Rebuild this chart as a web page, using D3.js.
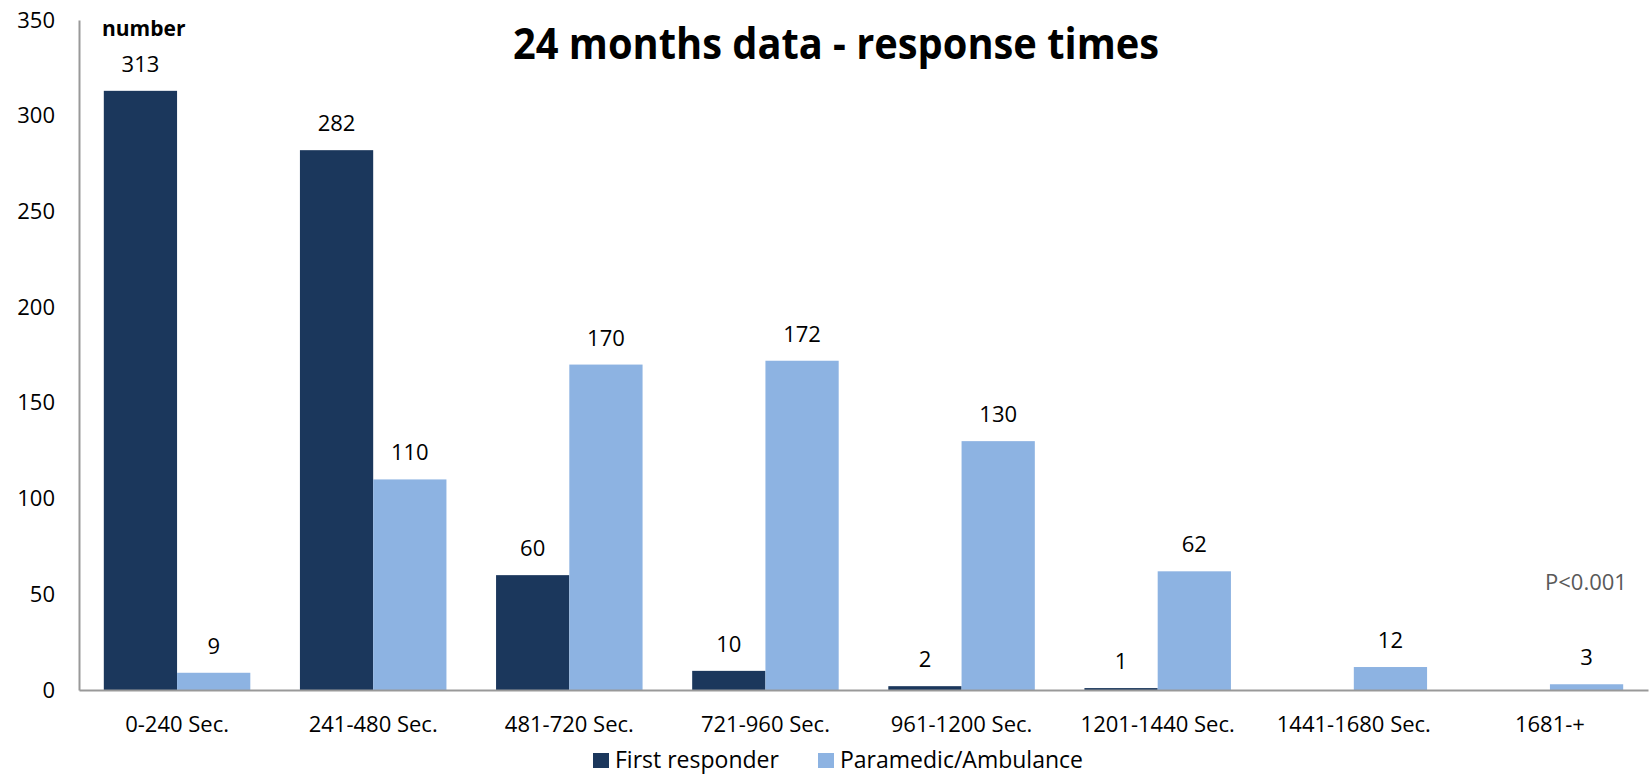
<!DOCTYPE html>
<meta charset="utf-8">
<style>
    body {margin: 0; background: #fff; font-family: 'Open Sans', sans-serif;}
</style>
<svg width="1650" height="774"></svg>
<script src="https://d3js.org/d3.v7.min.js"></script>
<script>

var categories = ["0-240 Sec.", "241-480 Sec.", "481-720 Sec.", "721-960 Sec.",
                  "961-1200 Sec.", "1201-1440 Sec.", "1441-1680 Sec.", "1681-+"];
var seriesNames = ["First responder", "Paramedic/Ambulance"];
var firstResponder = [313, 282, 60, 10, 2, 1, 0, 0];
var paramedic = [9, 110, 170, 172, 130, 62, 12, 3];
var yTicks = [0, 50, 100, 150, 200, 250, 300, 350];
var colors = ["#1b375c", "#8db3e2"];

var svg = d3.select("svg"),
    width = +svg.attr("width"),
    height = +svg.attr("height");

// note: "top" is a reserved window property, so use plot* names
var plotLeft = 79, plotRight = 1648, plotTop = 20, plotBottom = 690;

var x0 = d3.scaleBand()
    .domain(categories)
    .range([plotLeft, plotRight])
    .paddingInner(0.253)
    .paddingOuter(0.1265);

var x1 = d3.scaleBand()
    .domain(seriesNames)
    .range([0, x0.bandwidth()]);

var y = d3.scaleLinear()
    .domain([0, 350])
    .range([plotBottom, plotTop]);

var rows = categories.map(function(c, i) {
  return {cat: c, values: [firstResponder[i], paramedic[i]]};
});

// bars
var group = svg.append("g").selectAll("g")
    .data(rows)
    .enter().append("g")
    .attr("transform", function(d) { return "translate(" + x0(d.cat) + ",0)"; });

group.selectAll("rect")
    .data(function(d) { return d.values.map(function(v, k) { return {s: seriesNames[k], v: v, k: k}; }); })
    .enter().append("rect")
    .attr("x", function(d) { return x1(d.s); })
    .attr("y", function(d) { return y(d.v); })
    .attr("width", x1.bandwidth())
    .attr("height", function(d) { return plotBottom - y(d.v); })
    .style("fill", function(d) { return colors[d.k]; });

// value labels (zero values are not labelled)
group.selectAll("text")
    .data(function(d) { return d.values.map(function(v, k) { return {s: seriesNames[k], v: v}; }).filter(function(d) { return d.v > 0; }); })
    .enter().append("text")
    .attr("x", function(d) { return x1(d.s) + x1.bandwidth() / 2; })
    .attr("y", function(d) { return y(d.v) - 19; })
    .attr("text-anchor", "middle")
    .style("font-size", "22px")
    .style("fill", "#000")
    .text(function(d) { return d.v; });

// y axis
var yAxis = svg.append("g")
    .attr("transform", "translate(" + plotLeft + ",0)")
    .call(d3.axisLeft(y).tickValues(yTicks).tickSize(0).tickPadding(24));
yAxis.select(".domain").attr("stroke", "#999").attr("stroke-width", 2);
yAxis.selectAll("text").style("font-size", "22px").style("font-family", "'Open Sans', sans-serif").attr("fill", "#000");

// x axis
var xAxis = svg.append("g")
    .attr("transform", "translate(0," + plotBottom + ")")
    .call(d3.axisBottom(x0).tickSize(0).tickPadding(26));
xAxis.select(".domain").attr("stroke", "#999").attr("stroke-width", 2);
xAxis.selectAll("text").style("font-size", "22px").style("font-family", "'Open Sans', sans-serif").attr("fill", "#000");

// title
svg.append("text")
    .attr("x", 513)
    .attr("y", 59)
    .attr("textLength", 646)
    .attr("lengthAdjust", "spacingAndGlyphs")
    .style("font-size", "43px")
    .style("font-weight", "bold")
    .text("24 months data - response times");

svg.append("text")
    .attr("x", 102)
    .attr("y", 36)
    .style("font-size", "21px")
    .style("font-weight", "bold")
    .text("number");

svg.append("text")
    .attr("x", 1545)
    .attr("y", 590)
    .style("font-size", "22px")
    .style("fill", "#595959")
    .text("P<0.001");

// legend
var legend = svg.append("g").attr("transform", "translate(593,753)");
var lx = [0, 225];
seriesNames.forEach(function(name, k) {
  var g = legend.append("g").attr("transform", "translate(" + lx[k] + ",0)");
  g.append("rect").attr("width", 16).attr("height", 15).style("fill", colors[k]);
  g.append("text").attr("x", 22).attr("y", 15).style("font-size", "23px").text(name);
});

</script>
